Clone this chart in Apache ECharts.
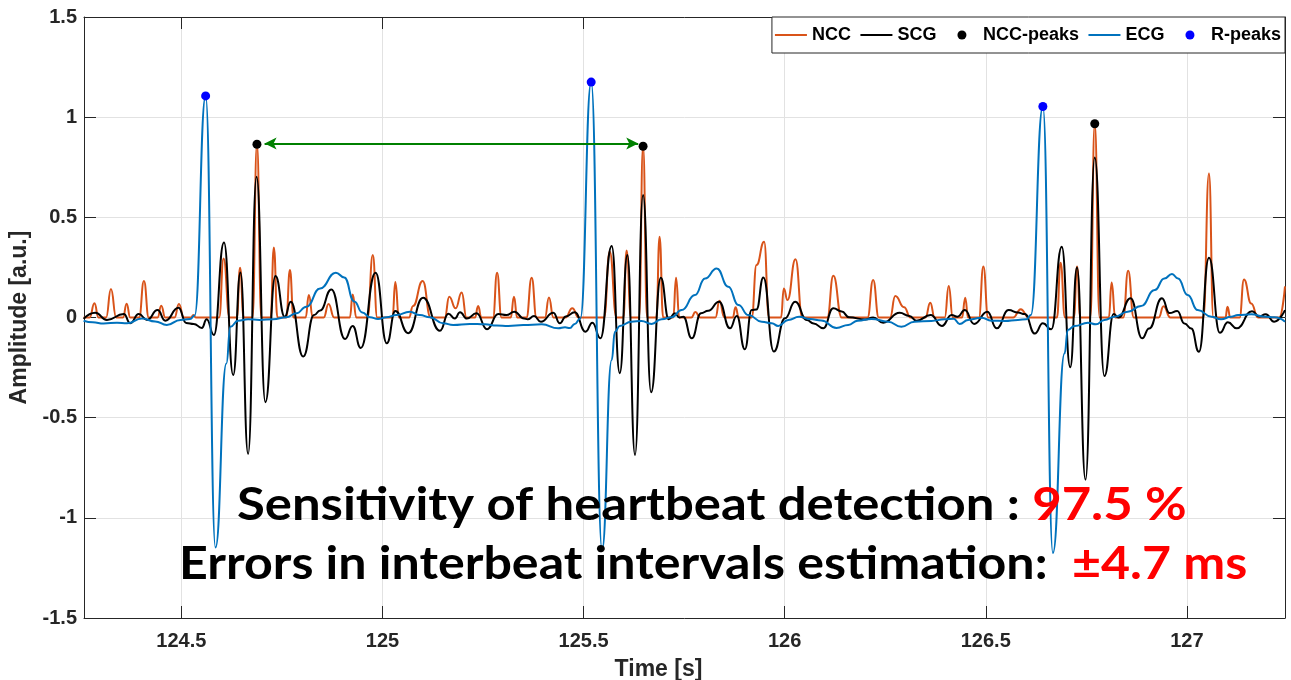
<!DOCTYPE html>
<html><head><meta charset="utf-8">
<script src="https://cdn.jsdelivr.net/npm/echarts@6/dist/echarts.min.js"></script>
<style>html,body{margin:0;padding:0;background:#fff;}#c{width:1291px;height:680px;}</style>
</head><body><div id="c"></div>
<script>
// ---------- data (seconds / a.u.) ----------
const nccT = [124.257,124.272,124.284,124.294,124.313,124.325,124.338,124.355,124.364,124.373,124.395,124.407,124.419,124.441,124.450,124.460,124.483,124.494,124.506,124.524,124.530,124.536,124.594,124.605,124.620,124.638,124.646,124.655,124.677,124.688,124.699,124.722,124.730,124.739,124.761,124.770,124.779,124.809,124.817,124.827,124.854,124.866,124.880,124.919,124.926,124.935,124.963,124.976,124.987,125.025,125.032,125.041,125.066,125.076,125.100,125.120,125.155,125.166,125.182,125.197,125.209,125.230,125.238,125.246,125.275,125.285,125.296,125.319,125.327,125.335,125.358,125.371,125.383,125.404,125.414,125.425,125.455,125.472,125.488,125.551,125.565,125.582,125.599,125.607,125.618,125.638,125.648,125.658,125.681,125.689,125.698,125.723,125.730,125.738,125.768,125.778,125.790,125.828,125.838,125.850,125.871,125.878,125.886,125.918,125.930,125.949,125.961,125.991,125.998,126.007,126.027,126.044,126.106,126.121,126.142,126.206,126.220,126.234,126.262,126.275,126.297,126.313,126.350,126.362,126.373,126.398,126.408,126.418,126.441,126.449,126.456,126.483,126.494,126.506,126.568,126.587,126.607,126.677,126.686,126.697,126.719,126.727,126.735,126.760,126.771,126.783,126.806,126.813,126.822,126.842,126.854,126.868,126.930,126.942,126.959,127.041,127.055,127.066,127.096,127.101,127.108,127.131,127.142,127.160,127.177,127.230,127.244];
const nccY = [0,0,0.071,0,0,0.142,0,0,0.069,0,0,0.182,0,0,0.059,0,0,0.067,0,0,0.012,0,0,0.295,0,0,0.248,0,0,0.865,0,0,0.350,0,0,0.237,0,0,0.112,0,0,0.067,0,0,0.115,0,0,0.312,0,0,0.177,0,0,0.057,0.182,0,0,0.104,0.046,0.125,0,0,0.057,0,0,0.224,0,0,0.104,0,0,0.199,0,0,0.100,0,0,0.046,0,0,0.330,0,0,0.335,0,0,0.855,0,0,0.403,0,0,0.199,0,0,0.027,0,0,0.083,0,0,0.051,0,0,0.262,0.378,0,0,0.145,0.087,0.291,0,0,0.208,0,0,0.187,0,0,0.107,0.051,0,0,0.074,0,0,0.157,0,0,0.099,0,0,0.254,0,0,0.041,0,0,0.273,0,0,0.254,0,0,0.967,0,0,0.175,0,0,0.233,0,0,0.056,0,0,0.719,0,0,0.054,0,0,0.190,0.070,0,0,0.155];

const scgT = [124.257,124.286,124.315,124.357,124.373,124.394,124.415,124.441,124.460,124.493,124.512,124.531,124.551,124.563,124.581,124.606,124.629,124.647,124.666,124.687,124.709,124.734,124.757,124.772,124.803,124.830,124.845,124.873,124.907,124.926,124.946,124.983,125.011,125.032,125.064,125.101,125.143,125.164,125.180,125.193,125.210,125.234,125.260,125.288,125.308,125.328,125.352,125.361,125.377,125.394,125.425,125.441,125.456,125.478,125.505,125.522,125.542,125.570,125.590,125.609,125.628,125.648,125.668,125.692,125.712,125.727,125.738,125.748,125.769,125.792,125.810,125.837,125.864,125.881,125.901,125.918,125.930,125.947,125.973,126.001,126.026,126.055,126.072,126.096,126.121,126.142,126.160,126.200,126.220,126.245,126.286,126.310,126.328,126.363,126.391,126.415,126.430,126.448,126.471,126.504,126.527,126.557,126.580,126.597,126.622,126.642,126.663,126.689,126.710,126.727,126.748,126.771,126.795,126.818,126.830,126.860,126.889,126.906,126.938,126.957,126.976,126.994,127.011,127.030,127.055,127.082,127.102,127.124,127.162,127.180,127.196,127.217,127.244];
const scgY = [-0.007,0.024,-0.012,0.017,-0.029,0.017,-0.012,0.037,-0.016,0.049,-0.027,-0.032,-0.052,-0.009,-0.087,0.375,-0.287,0.225,-0.681,0.702,-0.423,0.207,0.004,0.079,-0.195,0.012,0.035,0.140,-0.107,-0.042,-0.152,0.224,-0.129,0.032,-0.078,0.098,-0.066,0.019,-0.005,0.026,-0.005,0.021,-0.059,0.017,0.012,0.029,-0.005,-0.009,0.007,-0.021,0.024,-0.029,0.005,0.026,-0.071,-0.026,-0.104,0.357,-0.278,0.312,-0.686,0.611,-0.373,0.199,-0.009,0.021,0.000,0.004,-0.104,0.021,0.034,0.079,-0.054,0.007,-0.159,0.037,0.040,0.200,-0.170,-0.004,0.079,-0.012,-0.030,-0.054,0.046,0.030,0.001,-0.010,0.000,-0.026,0.024,0.008,-0.016,0.012,-0.042,0.012,0.004,0.037,-0.032,0.029,-0.054,0.037,0.025,0.017,-0.080,-0.029,-0.059,0.353,-0.248,0.250,-0.810,0.799,-0.292,0.017,0.000,0.096,-0.104,-0.055,0.096,0.022,0.032,-0.030,-0.055,-0.171,0.298,-0.076,-0.024,-0.054,0.031,0.005,0.016,-0.021,0.037];

const ecgT = [124.257,124.280,124.307,124.340,124.365,124.402,124.435,124.464,124.498,124.522,124.533,124.5604,124.585,124.612,124.622,124.641,124.666,124.695,124.728,124.761,124.786,124.811,124.845,124.884,124.905,124.930,124.950,124.969,124.989,125.010,125.035,125.068,125.093,125.118,125.151,125.176,125.217,125.255,125.284,125.313,125.350,125.396,125.437,125.454,125.466,125.478,125.492,125.519,125.546,125.570,125.578,125.590,125.619,125.644,125.669,125.694,125.719,125.744,125.777,125.802,125.831,125.860,125.885,125.910,125.943,125.968,125.984,126.009,126.036,126.063,126.091,126.129,126.158,126.182,126.216,126.257,126.290,126.323,126.365,126.398,126.420,126.435,126.456,126.489,126.514,126.547,126.580,126.601,126.612,126.642,126.667,126.696,126.704,126.721,126.754,126.774,126.795,126.820,126.853,126.886,126.920,126.944,126.963,126.978,127.002,127.027,127.061,127.085,127.110,127.127,127.160,127.193,127.218,127.244];
const ecgY = [-0.016,-0.024,-0.030,-0.026,-0.029,-0.005,-0.020,-0.037,-0.012,-0.008,0.010,1.106,-1.148,-0.229,-0.046,-0.016,-0.009,-0.012,-0.009,0.001,0.021,0.054,0.145,0.224,0.200,0.080,0.025,0.001,-0.007,0.001,0.012,0.029,0.012,0.001,-0.029,-0.037,-0.032,-0.034,-0.040,-0.042,-0.038,-0.034,-0.054,-0.049,-0.053,-0.032,-0.005,1.175,-1.160,-0.212,-0.071,-0.042,-0.021,-0.017,-0.032,-0.009,0.001,0.037,0.112,0.195,0.245,0.154,0.062,0.012,-0.021,-0.029,-0.042,-0.012,0.004,-0.008,-0.015,-0.052,-0.037,-0.016,-0.007,-0.021,-0.046,-0.021,-0.017,-0.009,-0.006,-0.032,-0.012,-0.001,-0.016,-0.017,-0.012,-0.009,0.012,1.053,-1.175,-0.179,-0.062,-0.042,-0.026,-0.034,-0.012,0.004,0.029,0.057,0.137,0.195,0.217,0.195,0.112,0.037,0.004,-0.009,0.004,0.012,0.016,0.004,0.001,-0.021];

const nccPeakT = [124.688, 125.648, 126.771];
const nccPeakY = [0.865, 0.855, 0.967];
const rPeakT = [124.5604, 125.519, 126.642];
const rPeakY = [1.106, 1.175, 1.053];

const arrowT = [124.707, 125.636];
const arrowY = 0.868;

const legendNames = ['NCC','SCG','NCC-peaks','ECG','R-peaks'];
const xTitle = 'Time [s]';
const yTitle = 'Amplitude [a.u.]';
const line1a = 'Sensitivity of heartbeat detection : ';
const line1b = '97.5 %';
const line2a = 'Errors in interbeat intervals estimation:  ';
const line2b = '\u00b14.7 ms';

// ---------- chart ----------
function pairs(t, y) { return t.map((v, i) => [v, y[i]]); }
const AX = '#262626';
const FONT = '"Liberation Sans", Arial, sans-serif';
const BIG = 'Lato, "Open Sans", sans-serif';
const xMin = 124.258, xMax = 127.244;
const LINE_ICON = 'path://M0,0M32,9M0,3.5L32,3.5L32,5.5L0,5.5Z';
const DOT_ICON = 'path://M0,0M32,9M11.5,4.5A4.5,4.5,0,1,1,20.5,4.5A4.5,4.5,0,1,1,11.5,4.5Z';

const chart = echarts.init(document.getElementById('c'), null, { renderer: 'canvas' });
const tickLabel = { color: AX, fontSize: 20, fontWeight: 'bold', fontFamily: FONT };
const titleFont = { color: AX, fontSize: 23, fontWeight: 'bold', fontFamily: FONT };
const lineSeries = (name, t, y, color, z) => ({
  name, type: 'line', data: pairs(t, y), symbol: 'none', showSymbol: false,
  smooth: 0.5, smoothMonotone: 'x', z,
  lineStyle: { color, width: 2 }, itemStyle: { color }, emphasis: { disabled: true }
});

chart.setOption({
  animation: false,
  backgroundColor: '#fff',
  grid: { left: 84, right: 6, top: 17, bottom: 62, containLabel: false, outerBoundsMode: 'none' },
  xAxis: [{
    type: 'value', min: xMin, max: xMax, minInterval: 0.5, maxInterval: 0.5, splitNumber: 6,
    axisLine: { onZero: false, lineStyle: { color: AX, width: 1 } },
    axisTick: { inside: true, length: 12, lineStyle: { color: AX } },
    axisLabel: Object.assign({ showMinLabel: false, showMaxLabel: false, margin: 13 }, tickLabel),
    splitLine: { show: true, lineStyle: { color: '#e2e2e2', width: 1 } },
    name: xTitle, nameLocation: 'middle', nameGap: 40,
    nameTextStyle: Object.assign({ padding: [0, 52, 0, 0] }, titleFont)
  }, {
    type: 'value', position: 'top', min: xMin, max: xMax, minInterval: 0.5, maxInterval: 0.5, splitNumber: 6,
    axisLine: { onZero: false, lineStyle: { color: AX, width: 1 } },
    axisTick: { inside: true, length: 12, lineStyle: { color: AX } },
    axisLabel: { show: false }, splitLine: { show: false }
  }],
  yAxis: [{
    type: 'value', min: -1.5, max: 1.5, interval: 0.5,
    axisLine: { show: true, onZero: false, lineStyle: { color: AX, width: 1 } },
    axisTick: { show: true, inside: true, length: 12, lineStyle: { color: AX } },
    axisLabel: Object.assign({ margin: 7 }, tickLabel),
    splitLine: { show: true, lineStyle: { color: '#e2e2e2', width: 1 } },
    name: yTitle, nameLocation: 'middle', nameGap: 41, nameTextStyle: titleFont
  }, {
    type: 'value', position: 'right', min: -1.5, max: 1.5, interval: 0.5,
    axisLine: { show: true, onZero: false, lineStyle: { color: AX, width: 1 } },
    axisTick: { show: true, inside: true, length: 12, lineStyle: { color: AX } },
    axisLabel: { show: false }, splitLine: { show: false }
  }],
  legend: {
    data: [
      { name: legendNames[0], icon: LINE_ICON },
      { name: legendNames[1], icon: LINE_ICON },
      { name: legendNames[2], icon: DOT_ICON },
      { name: legendNames[3], icon: LINE_ICON },
      { name: legendNames[4], icon: DOT_ICON }
    ],
    right: 6, top: 17, orient: 'horizontal',
    itemWidth: 32, itemHeight: 9, itemGap: 9.5,
    padding: [9, 4, 9, 3],
    backgroundColor: '#fff', borderColor: AX, borderWidth: 1, borderRadius: 0,
    textStyle: { color: '#000', fontSize: 18, fontWeight: 'bold', fontFamily: FONT },
    selectedMode: false
  },
  series: [
    lineSeries('NCC', nccT, nccY, '#D95319', 2),
    lineSeries('SCG', scgT, scgY, '#000000', 3),
    { name: 'NCC-peaks', type: 'scatter', data: pairs(nccPeakT, nccPeakY), symbol: 'circle', symbolSize: 9,
      itemStyle: { color: '#000', opacity: 1 }, emphasis: { disabled: true }, z: 6 },
    lineSeries('ECG', ecgT, ecgY, '#0072BD', 4),
    { name: 'R-peaks', type: 'scatter', data: pairs(rPeakT, rPeakY), symbol: 'circle', symbolSize: 9,
      itemStyle: { color: '#0000FF', opacity: 1 }, emphasis: { disabled: true }, z: 6 },
    { name: 'arrow', type: 'line', data: [[arrowT[0], arrowY]], symbol: 'none', lineStyle: { width: 0 }, z: 5,
      markLine: {
        silent: true, symbol: ['arrow', 'arrow'], symbolSize: [9, 12],
        label: { show: false },
        lineStyle: { color: '#008000', width: 2, type: 'solid' },
        emphasis: { disabled: true },
        data: [[{ coord: [arrowT[0], arrowY] }, { coord: [arrowT[1], arrowY] }]]
      } }
  ],
  graphic: [
    { type: 'text', x: 237, y: 505, scaleX: 1.105, z: 100,
      style: { text: '{a|' + line1a + '}{b|' + line1b + '}', verticalAlign: 'middle',
        rich: { a: { fill: '#000', fontSize: 46, fontWeight: 'bold', fontFamily: BIG },
                b: { fill: '#ff0000', fontSize: 46, fontWeight: 'bold', fontFamily: BIG } } } },
    { type: 'text', x: 179, y: 564, scaleX: 1.09, z: 100,
      style: { text: '{a|' + line2a + '}{b|' + line2b + '}', verticalAlign: 'middle',
        rich: { a: { fill: '#000', fontSize: 46, fontWeight: 'bold', fontFamily: BIG },
                b: { fill: '#ff0000', fontSize: 46, fontWeight: 'bold', fontFamily: BIG } } } }
  ]
});
</script></body></html>
